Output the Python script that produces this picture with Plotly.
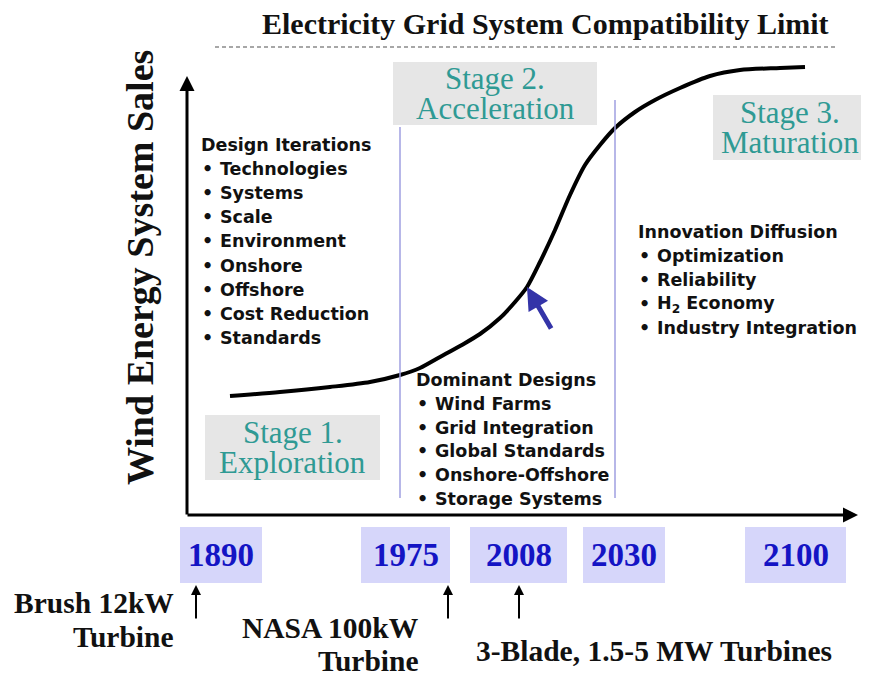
import plotly.graph_objects as go

# ---- data (diagram coordinates: x to the right, y downward, in canvas units) ----
curve_x = [230, 280, 330, 370, 400, 420, 440, 460, 480, 500, 515, 527, 540, 555, 570, 585, 600, 615, 635, 655, 680, 710, 740, 780, 805]
curve_y = [396, 392, 387, 382, 375, 368, 357, 346, 334, 318, 302, 287, 262, 230, 195, 165, 145, 128, 112, 100, 88, 76, 70, 68, 67]

years = ["1890", "1975", "2008", "2030", "2100"]
year_x0 = [180, 361, 470, 583, 745]
year_x1 = [262, 450, 567, 665, 846]

stage_lines = [["Stage 1.", "Exploration"], ["Stage 2.", "Acceleration"], ["Stage 3.", "Maturation"]]
stage_boxes = [(205, 415, 380, 480), (393, 62, 597, 125), (713, 95, 866, 160)]

design_title = "Design Iterations"
design_items = ["Technologies", "Systems", "Scale", "Environment", "Onshore", "Offshore", "Cost Reduction", "Standards"]
dominant_title = "Dominant Designs"
dominant_items = ["Wind Farms", "Grid Integration", "Global Standards", "Onshore-Offshore", "Storage Systems"]
diffusion_title = "Innovation Diffusion"
diffusion_items = ["Optimization", "Reliability", "H<sub>2</sub> Economy", "Industry Integration"]

milestone_lines = [["Brush 12kW", "Turbine"], ["NASA 100kW", "Turbine"], ["3-Blade, 1.5-5 MW Turbines"]]
milestone_arrow_x = [196, 448, 519]

title_text = "Electricity Grid System Compatibility Limit"
y_label = "Wind Energy System Sales"

W, H = 869, 676
PAD = 8  # page body margin
SERIF = "Liberation Serif, Times New Roman, serif"
SANS = "DejaVu Sans, Verdana, sans-serif"
TEAL = "#2f9a94"
YEARBLUE = "#1414c4"
INK = "#111111"

fig = go.Figure()
fig.add_trace(go.Scatter(x=curve_x, y=curve_y, mode="lines",
                         line=dict(color="black", width=4, shape="spline", smoothing=0.8),
                         hoverinfo="skip", showlegend=False))

shapes = []
ann = []

# stage boxes
for (x0, y0, x1, y1), lines in zip(stage_boxes, stage_lines):
    shapes.append(dict(type="rect", x0=x0, y0=y0, x1=x1, y1=y1, fillcolor="#e6e6e6",
                       line=dict(width=0), layer="below"))
    cy = (y0 + y1) / 2
    for k, t in enumerate(lines):
        ann.append(dict(x=(x0 + x1) / 2, y=cy - 15 + 30 * k, text=t, showarrow=False,
                        font=dict(family=SERIF, size=31, color=TEAL)))

# year boxes
for x0, x1, yr in zip(year_x0, year_x1, years):
    shapes.append(dict(type="rect", x0=x0, y0=527, x1=x1, y1=583, fillcolor="#d6d6fa",
                       line=dict(width=0), layer="below"))
    ann.append(dict(x=(x0 + x1) / 2, y=555, text="<b>%s</b>" % yr, showarrow=False,
                    font=dict(family=SERIF, size=33, color=YEARBLUE)))

# stage separators
shapes.append(dict(type="line", x0=400, y0=127, x1=400, y1=498, line=dict(color="#9f9fe0", width=1.5)))
shapes.append(dict(type="line", x0=615, y0=100, x1=615, y1=498, line=dict(color="#9f9fe0", width=1.5)))

# grid limit dashed line
shapes.append(dict(type="line", x0=215, y0=47, x1=836, y1=47, line=dict(color="#8a8a8a", width=1.5, dash="4px,3px")))

# title
ann.append(dict(x=545, y=23, text="<b>%s</b>" % title_text, showarrow=False,
                font=dict(family=SERIF, size=30, color=INK)))
# y label
ann.append(dict(x=140, y=268, text="<b>%s</b>" % y_label, showarrow=False, textangle=-90,
                font=dict(family=SERIF, size=38, color=INK)))

# axes arrows
ann.append(dict(x=187, y=76, ax=187, ay=516, xref="x", yref="y", axref="x", ayref="y", text="",
                showarrow=True, arrowhead=2, arrowsize=1, arrowwidth=3, arrowcolor="black"))
ann.append(dict(x=858, y=515, ax=186, ay=515, xref="x", yref="y", axref="x", ayref="y", text="",
                showarrow=True, arrowhead=2, arrowsize=1, arrowwidth=3, arrowcolor="black"))

# blue arrow on curve
ann.append(dict(x=527, y=287, ax=552, ay=330, xref="x", yref="y", axref="x", ayref="y", text="",
                showarrow=True, arrowhead=2, arrowsize=0.9, arrowwidth=5, arrowcolor="#3434a8"))

# lists
def add_list(x, y, title, items, step):
    ann.append(dict(x=x, y=y, text="<b>%s</b>" % title, showarrow=False, xanchor="left",
                    font=dict(family=SANS, size=17.5, color=INK)))
    for i, it in enumerate(items):
        yy = y + step * (i + 1)
        ann.append(dict(x=x + 1, y=yy, text="<b>•</b>", showarrow=False, xanchor="left",
                        font=dict(family=SANS, size=17.5, color=INK)))
        ann.append(dict(x=x + 19, y=yy, text="<b>%s</b>" % it, showarrow=False, xanchor="left",
                        font=dict(family=SANS, size=17.5, color=INK)))

add_list(199, 145, design_title, design_items, 24.1)
add_list(414, 380, dominant_title, dominant_items, 23.8)
add_list(636, 232, diffusion_title, diffusion_items, 24.0)

# milestones
MS = 29.5
for i, line in enumerate(milestone_lines[0]):
    ann.append(dict(x=176, y=603 + 34 * i, text="<b>%s</b>" % line, showarrow=False, xanchor="right",
                    font=dict(family=SERIF, size=MS, color=INK)))
for i, line in enumerate(milestone_lines[1]):
    ann.append(dict(x=421, y=628 + 33 * i, text="<b>%s</b>" % line, showarrow=False, xanchor="right",
                    font=dict(family=SERIF, size=MS, color=INK)))
ann.append(dict(x=654, y=651, text="<b>%s</b>" % milestone_lines[2][0], showarrow=False,
                font=dict(family=SERIF, size=MS, color=INK)))
for mx in milestone_arrow_x:
    ann.append(dict(x=mx, y=585, ax=mx, ay=620, xref="x", yref="y", axref="x", ayref="y", text="",
                    showarrow=True, arrowhead=2, arrowsize=1, arrowwidth=2, arrowcolor="black"))

fig.update_layout(width=W - PAD, height=H - PAD, margin=dict(l=0, r=0, t=0, b=0),
                  plot_bgcolor="white", paper_bgcolor="white",
                  xaxis=dict(range=[PAD, W], visible=False, fixedrange=True),
                  yaxis=dict(range=[H, PAD], visible=False, fixedrange=True),
                  shapes=shapes, annotations=ann, showlegend=False)

fig.write_html("out.html")
